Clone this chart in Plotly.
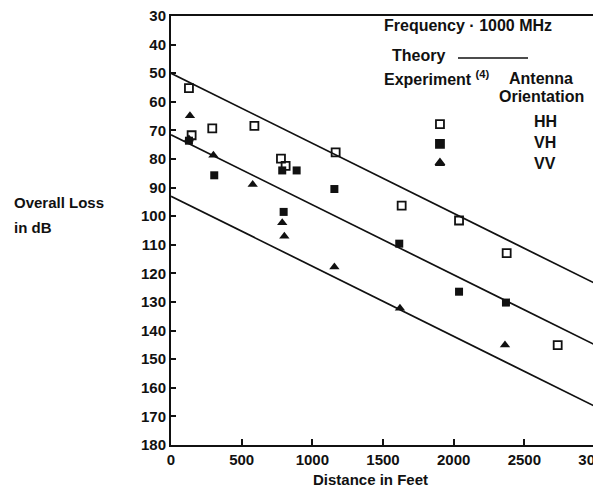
"""
Overall loss vs distance at 1000 MHz: theory lines and experimental points
"""
import plotly.graph_objects as go

# theory lines (end points along distance)
theory_x = [0, 3000]
theory_upper = [50, 123.5]
theory_middle = [71.5, 145]
theory_lower = [93, 166.5]

# experiment, antenna orientation HH (open squares)
hh_x = [127, 146, 292, 590, 778, 811, 1165, 1632, 2038, 2375, 2736]
hh_y = [55.2, 71.7, 69.3, 68.4, 79.9, 82.4, 77.7, 96.3, 101.5, 112.9, 145.1]

# VH (filled squares)
vh_x = [127, 306, 787, 889, 1156, 797, 1615, 2038, 2370]
vh_y = [73.6, 85.7, 84.0, 84.0, 90.5, 98.5, 109.6, 126.4, 130.2]

# VV (triangles)
vv_x = [134, 127, 300, 578, 787, 802, 1156, 1620, 2363]
vv_y = [64.9, 73.0, 78.7, 88.9, 102.3, 107.0, 117.8, 132.2, 145.0]

# legend keys
key_x = [1903, 1903, 1903]
key_y = [67.8, 74.7, 81.4]
key_symbols = ['square-open', 'square', 'triangle-up']

x_ticks = [0, 500, 1000, 1500, 2000, 2500, 3000]
y_ticks = list(range(30, 181, 10))

INK = '#111111'
FONT = 'Liberation Sans, Arial, sans-serif'

fig = go.Figure()

for y_vals in (theory_upper, theory_middle, theory_lower):
    fig.add_trace(go.Scatter(
        x=theory_x, y=y_vals, mode='lines',
        line=dict(color=INK, width=1.7), hoverinfo='skip'
    ))

fig.add_trace(go.Scatter(
    x=hh_x, y=hh_y, mode='markers', name='HH',
    marker=dict(symbol='square-open', size=8, color=INK, line=dict(width=1.8, color=INK))
))
fig.add_trace(go.Scatter(
    x=vh_x, y=vh_y, mode='markers', name='VH',
    marker=dict(symbol='square', size=8, color=INK)
))
fig.add_trace(go.Scatter(
    x=vv_x, y=vv_y, mode='markers', name='VV',
    marker=dict(symbol='triangle-up', size=9, color=INK)
))
fig.add_trace(go.Scatter(
    x=key_x, y=key_y, mode='markers', hoverinfo='skip',
    marker=dict(symbol=key_symbols, size=8, color=INK, line=dict(width=1.8, color=INK))
))

# page has an 8px body margin, so screen pixels are converted to paper units here
def px_x(sx):
    return (sx - 171) / 424

def px_y(sy):
    return 1 - (sy - 16) / 429

notes = [
    ("Frequency · 1000 MHz", 382, 26, 'left', 16),
    ("Theory", 390, 56, 'left', 16),
    ("Experiment <sup>(4)</sup>", 382, 78, 'left', 16),
    ("Antenna", 541, 78, 'center', 16),
    ("Orientation", 541, 96, 'center', 16),
    ("HH", 545, 121, 'center', 16),
    ("VH", 545, 142, 'center', 16),
    ("VV", 545, 163, 'center', 16),
    ("Overall Loss", 12, 202, 'left', 15),
    ("in dB", 12, 227, 'left', 15),
    ("Distance in Feet", 370, 479, 'center', 15),
]
for txt, x, y, anchor, size in notes:
    fig.add_annotation(
        text=txt, x=px_x(x), y=px_y(y), xref='paper', yref='paper',
        xanchor=anchor, yanchor='middle', showarrow=False,
        font=dict(family=FONT, size=size, color=INK, weight='bold')
    )

# theory key line
fig.add_shape(type='line', xref='paper', yref='paper',
              x0=px_x(458), x1=px_x(528), y0=px_y(58), y1=px_y(58),
              line=dict(color=INK, width=1.7))

fig.update_layout(
    width=593, height=481,
    margin=dict(l=163, r=6, t=8, b=44),
    paper_bgcolor='white', plot_bgcolor='white',
    showlegend=False,
    font=dict(family=FONT, size=15, color=INK, weight='bold'),
    xaxis=dict(
        range=[0, 3000], tickvals=x_ticks, ticks='inside', ticklen=6,
        tickwidth=1.5, tickcolor=INK, showline=True, linecolor=INK, linewidth=2,
        mirror=True, showgrid=False, zeroline=False,
        ticklabeloverflow='allow', automargin=False
    ),
    yaxis=dict(
        range=[180, 30], tickvals=y_ticks, ticks='inside', ticklen=5,
        tickwidth=1.5, tickcolor=INK, showline=True, linecolor=INK, linewidth=2,
        mirror=True, showgrid=False, zeroline=False,
        ticklabeloverflow='allow', automargin=False
    ),
)

fig.write_html("out.html")
